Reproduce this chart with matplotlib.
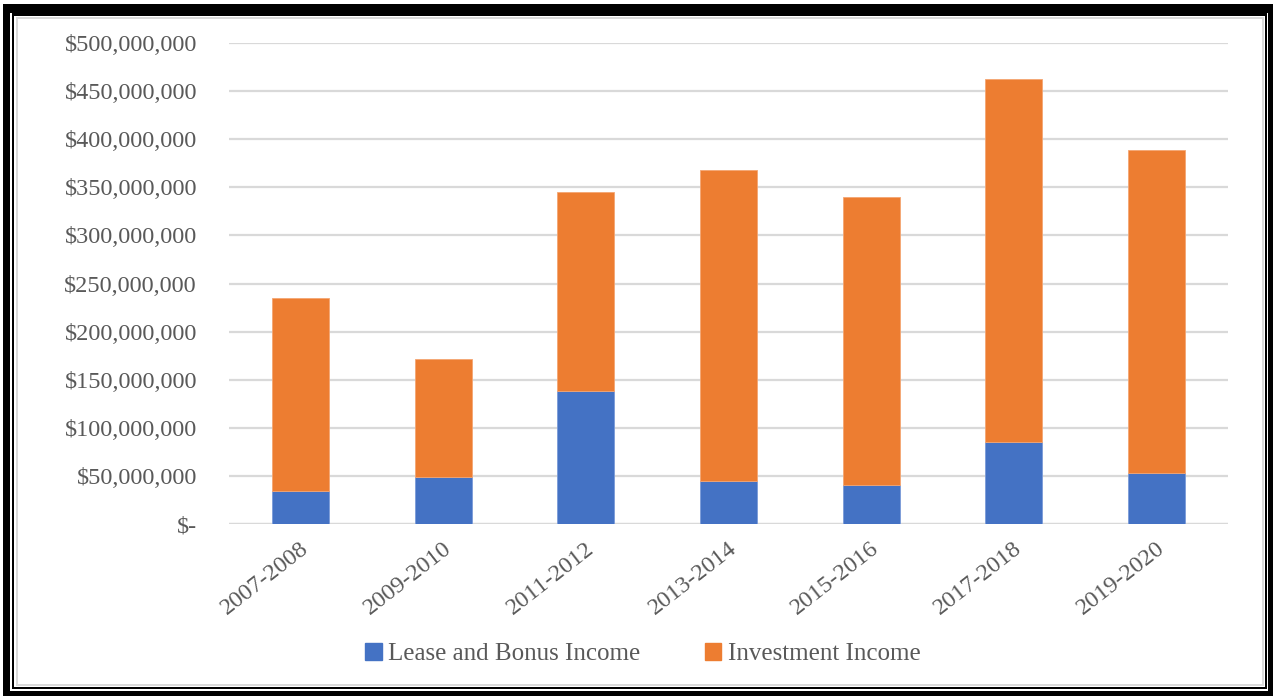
import matplotlib
matplotlib.use("Agg")
import matplotlib.pyplot as plt
from matplotlib.patches import Rectangle, Patch
from matplotlib.ticker import FuncFormatter, MultipleLocator
from matplotlib.transforms import ScaledTranslation

# income by biennium (dollars)
periods = ["2007-2008", "2009-2010", "2011-2012", "2013-2014",
           "2015-2016", "2017-2018", "2019-2020"]
lease_bonus = [34_000_000, 49_000_000, 138_500_000, 45_000_000,
               40_500_000, 85_500_000, 52_500_000]
totals = [235_000_000, 171_500_000, 345_500_000, 368_500_000,
          340_000_000, 462_500_000, 388_500_000]
investment = [t - l for t, l in zip(totals, lease_bonus)]

blue = "#4472C4"
orange = "#ED7D31"
text_gray = "#595959"
grid_gray = "#D9D9D9"

plt.rcParams["font.family"] = ["Liberation Serif", "DejaVu Serif"]

W, H = 1273, 696
fig = plt.figure(figsize=(W / 100, H / 100), dpi=100)
ax = fig.add_axes([229 / W, 1 - 524 / H, (1228 - 229) / W, (524 - 43) / H])

x = range(len(periods))
ax.bar(x, lease_bonus, width=0.4, color=blue, edgecolor="#7A9BD8",
       linewidth=0.6, zorder=3)
ax.bar(x, investment, width=0.4, bottom=lease_bonus, color=orange,
       edgecolor="#F4A673", linewidth=0.6, zorder=3)

ax.set_xlim(-0.5, len(periods) - 0.5)
ax.set_ylim(0, 500_000_000)
ax.yaxis.set_major_locator(MultipleLocator(50_000_000))
ax.yaxis.set_major_formatter(
    FuncFormatter(lambda v, p: "$-" if v == 0 else f"${v:,.0f}"))
ax.grid(axis="y", color=grid_gray, linewidth=1.6, zorder=0)
for s in ax.spines.values():
    s.set_visible(False)
ax.axhline(0, color=grid_gray, linewidth=1.6, zorder=1)

ax.set_xticks(list(x))
ax.set_xticklabels(periods, rotation=38, ha="right", va="center",
                   rotation_mode="anchor")
ax.tick_params(axis="x", length=0, pad=16, labelsize=17.5, labelcolor=text_gray)
ax.tick_params(axis="y", length=0, pad=23, labelsize=17.5, labelcolor=text_gray)
shift = ScaledTranslation(4 / 72, 0, fig.dpi_scale_trans)
for lbl in ax.get_xticklabels():
    lbl.set_transform(lbl.get_transform() + shift)

handles = [Patch(color=blue), Patch(color=orange)]
fig.legend(handles, ["Lease and Bonus Income", "Investment Income"],
           loc="center", bbox_to_anchor=(643 / W, 1 - 654 / H), ncol=2,
           frameon=False, fontsize=18, labelcolor=text_gray,
           handlelength=0.65, handleheight=0.65, handletextpad=0.25,
           columnspacing=2.6)


# page border: thick outer band, thin black rule, light inner rule
def band(x0, y0, x1, y1, color):
    fig.add_artist(Rectangle((x0 / W, 1 - y1 / H), (x1 - x0) / W,
                             (y1 - y0) / H, transform=fig.transFigure,
                             facecolor=color, edgecolor="none", zorder=10))


def frame(x0, y0, x1, y1, t, color):
    band(x0, y0, x1, y0 + t, color)
    band(x0, y1 - t, x1, y1, color)
    band(x0, y0, x0 + t, y1, color)
    band(x1 - t, y0, x1, y1, color)


band(3, 4, W, 12.5, "black")
band(3, 4, 10, H, "black")
band(1267.5, 4, W, H, "black")
band(3, 690.5, W, H, "black")
frame(12, 13.5, 1266.5, 688.5, 2, "black")
frame(15.5, 17, 1263.5, 686, 2, "#DADADA")

fig.savefig("out.png", dpi=100)
